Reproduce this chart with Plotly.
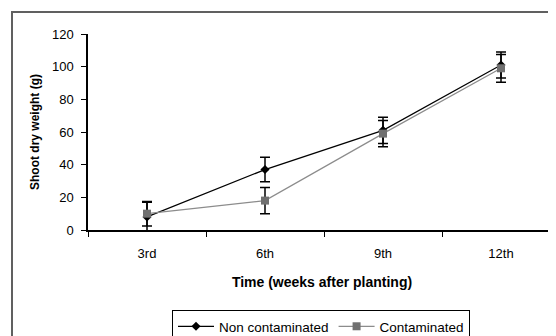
import plotly.graph_objects as go

weeks = ["3rd", "6th", "9th", "12th"]
non_contaminated = [8, 37, 61, 101]
non_contaminated_err = [9, 7.5, 8, 8]
contaminated = [10, 18, 59, 99]
contaminated_err = [7.5, 8, 8, 8.5]

# page has an 8px body margin; figure is taller than the window so the
# legend box runs off the bottom edge as in the reference
OFF = 8
W, H = 556 - OFF, 370


def px_x(p):
    return (p - OFF) / W


def px_y(p):
    return 1 - (p - OFF) / H


fig = go.Figure()
fig.add_trace(go.Scatter(
    x=weeks, y=non_contaminated, name="Non contaminated", mode="lines+markers",
    line=dict(color="black", width=1.2),
    marker=dict(symbol="diamond", size=7, color="black"),
    error_y=dict(type="data", array=non_contaminated_err, color="black", thickness=1.5, width=5),
))
fig.add_trace(go.Scatter(
    x=weeks, y=contaminated, name="Contaminated", mode="lines+markers",
    line=dict(color="#8c8c8c", width=1.2),
    marker=dict(symbol="square", size=8, color="#707070"),
    error_y=dict(type="data", array=contaminated_err, color="black", thickness=1.5, width=5),
))

fig.update_layout(
    width=W, height=H, margin=dict(l=0, r=0, t=0, b=0),
    paper_bgcolor="white", plot_bgcolor="white",
    font=dict(family="Liberation Sans, Arial", size=13, color="black"),
    xaxis=dict(domain=[px_x(88), 1], range=[-0.5, 3.466], type="category",
               showline=True, linecolor="black", linewidth=1.5,
               ticks="outside", tickson="boundaries", ticklen=5, tickcolor="black",
               ticklabelstandoff=11, automargin=False,
               showgrid=False, zeroline=False,
               title=dict(text="<b>Time (weeks after planting)</b>", font=dict(size=14), standoff=17)),
    yaxis=dict(domain=[px_y(230), px_y(34)], range=[0, 120], dtick=20,
               showline=True, linecolor="black", linewidth=1.5,
               ticks="outside", ticklen=5, tickcolor="black",
               ticklabelstandoff=5, automargin=False,
               showgrid=False, zeroline=False,
               title=dict(text="<b>Shoot dry weight (g)</b>", font=dict(size=12), standoff=10)),
    showlegend=True,
    legend=dict(orientation="h", x=px_x(172), y=px_y(310), xanchor="left", yanchor="top",
                bordercolor="black", borderwidth=1, font=dict(size=13.5),
                itemwidth=36, tracegroupgap=0),
    shapes=[dict(type="rect", xref="paper", yref="paper",
                 x0=px_x(12), x1=1.05, y0=-0.05, y1=px_y(12),
                 line=dict(color="#606060", width=2))],
)
fig.write_html("out.html")
